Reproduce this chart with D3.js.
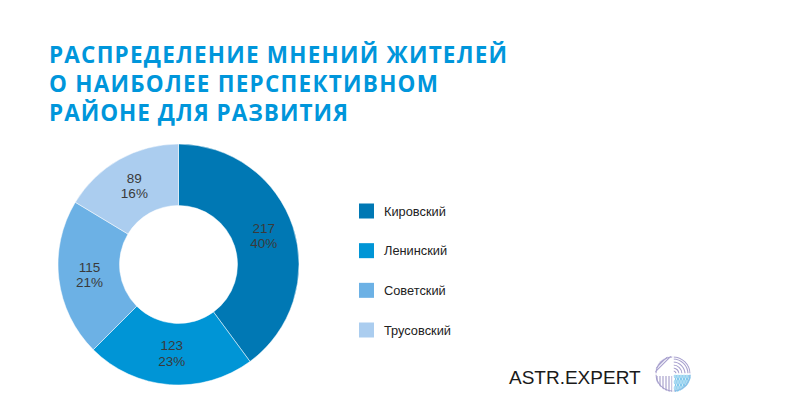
<!DOCTYPE html>
<html><head><meta charset="utf-8">
<script src="https://cdn.jsdelivr.net/npm/d3@7"></script>
<style>body{margin:0;background:#fff}svg{display:block}</style>
</head><body>
<svg id="c" width="800" height="420"></svg>
<script>
const titleLines = ["РАСПРЕДЕЛЕНИЕ МНЕНИЙ ЖИТЕЛЕЙ", "О НАИБОЛЕЕ ПЕРСПЕКТИВНОМ", "РАЙОНЕ ДЛЯ РАЗВИТИЯ"];
const titleWidths = [458, 389, 299];
const categories = ["Кировский", "Ленинский", "Советский", "Трусовский"];
const values = [217, 123, 115, 89];
const colors = ["#0078b4", "#0095d6", "#6cb1e5", "#abcdef"];
const brand = "ASTR.EXPERT";

const svg = d3.select("#c");
const title = svg.append("g").attr("font-family", "'Open Sans', sans-serif").attr("font-weight", 700)
  .attr("font-size", 22.5).attr("fill", "#0096db");
titleLines.forEach((t, i) => title.append("text").attr("x", 49).attr("y", 63 + i * 29.2)
  .attr("textLength", titleWidths[i]).attr("lengthAdjust", "spacing").text(t));

const cx = 178.5, cy = 264.5, R = 120.5, r0 = 59;
const total = d3.sum(values);
const pie = d3.pie().sort(null).value(d => d)(values);
const arc = d3.arc().innerRadius(r0).outerRadius(R);
const color = d3.scaleOrdinal().domain(categories).range(colors);
const g = svg.append("g").attr("transform", `translate(${cx},${cy})`);
g.selectAll("path").data(pie).join("path").attr("d", arc)
  .attr("fill", (d, i) => color(categories[i])).attr("stroke", "#fff").attr("stroke-width", 0.5);
const lab = g.selectAll("g.l").data(pie).join("g").attr("class", "l")
  .attr("transform", d => `translate(${arc.centroid(d)})`)
  .attr("font-family", "'Liberation Sans', Arial, sans-serif").attr("font-size", 13.5)
  .attr("fill", "#3a3a3a").attr("text-anchor", "middle");
lab.append("text").attr("y", -3.5).text(d => d.data);
lab.append("text").attr("y", 12).text(d => Math.round(d.data / total * 100) + "%");

const leg = svg.append("g").attr("font-family", "'Liberation Sans', Arial, sans-serif").attr("font-size", 12.8).attr("fill", "#222");
const ly = d3.scalePoint().domain(categories).range([211, 330]);
categories.forEach(c => {
  leg.append("rect").attr("x", 359).attr("y", ly(c) - 7.5).attr("width", 15).attr("height", 15).attr("fill", color(c));
  leg.append("text").attr("x", 384).attr("y", ly(c) + 4.5).text(c);
});

svg.append("text").attr("x", 509).attr("y", 384).attr("font-family", "'Liberation Sans', Arial, sans-serif")
  .attr("font-size", 19).attr("fill", "#1a1a1a").text(brand);

// logo
const lg = svg.append("g").attr("transform", "translate(673,374)");
const clipId = "lc";
lg.append("clipPath").attr("id", clipId).append("circle").attr("r", 18);
const lc = lg.append("g").attr("clip-path", `url(#${clipId})`).attr("fill", "none").attr("stroke-width", 1.1);
lc.append("circle").attr("r", 17).attr("stroke", "#a9a2cf");
for (let k = 0; k < 7; k++) {
  lc.append("path").attr("d", `M${-18} ${-2 - k * 3} L${-2 - k * 3} ${-18}`).attr("stroke", "#a9a2cf");
}
for (let k = 1; k < 6; k++) {
  lc.append("path").attr("d", d3.arc()({innerRadius: k * 3, outerRadius: k * 3, startAngle: 0, endAngle: Math.PI / 2}).replace(/Z$/, "")).attr("stroke", "#a9a2cf");
}
for (let k = 0; k < 6; k++) {
  lc.append("line").attr("x1", -16 + k * 3).attr("x2", -16 + k * 3).attr("y1", 2).attr("y2", 18).attr("stroke", "#a29bc9");
}
for (let i = 0; i < 6; i++) for (let j = 0; j < 6; j++) {
  lc.append("circle").attr("cx", 2 + i * 3 + (j % 2) * 1.5).attr("cy", 2 + j * 3).attr("r", 1.2).attr("stroke", "#7fc8ec");
}
lc.append("line").attr("x1", -18).attr("x2", 18).attr("y1", 0).attr("y2", 0).attr("stroke", "#fff").attr("stroke-width", 1.5);
lc.append("line").attr("y1", -18).attr("y2", 18).attr("x1", 0).attr("x2", 0).attr("stroke", "#fff").attr("stroke-width", 1.5);
</script>
</body></html>
